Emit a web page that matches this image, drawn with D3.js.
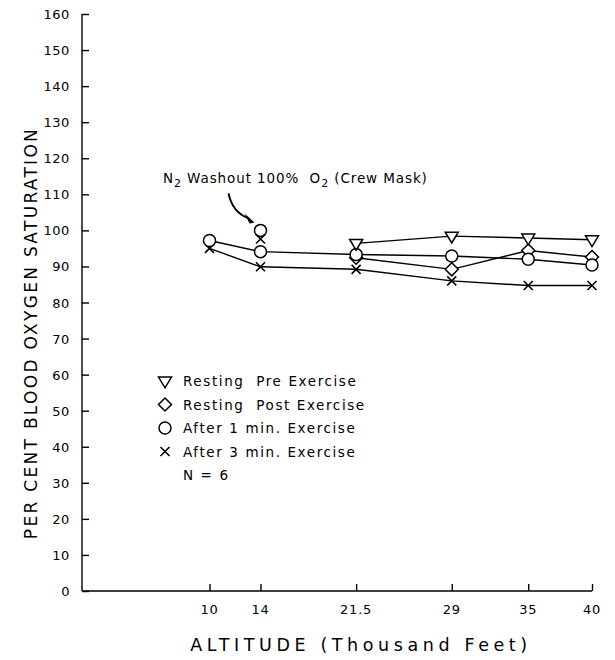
<!DOCTYPE html>
<html>
<head>
<meta charset="utf-8">
<script src="https://cdn.jsdelivr.net/npm/d3@7"></script>
<style>
  body { margin: 0; background: #fff; }
  svg text { font-family: "DejaVu Sans", sans-serif; fill: #000; white-space: pre; }
</style>
</head>
<body>
<div id="chart"></div>
<script>
// altitude ticks (thousand feet)
var altitudes = [10, 14, 21.5, 29, 35, 40];
var yTicks = d3.range(0, 161, 10);

// series
var preExercise   = [[21.5, 96.4], [29, 98.4], [35, 97.9], [40, 97.4]];
var postExercise  = [[21.5, 92.4], [29, 89.2], [35, 94.4], [40, 92.6]];
var after1min     = [[10, 97.2], [14, 94.1], [21.5, 93.3], [29, 92.9], [35, 92.0], [40, 90.4]];
var after3min     = [[10, 95.0], [14, 89.9], [21.5, 89.2], [29, 86.0], [35, 84.7], [40, 84.7]];

// N2 washout, 100% O2 (crew mask) points at 14,000 ft
var washoutCircle = [[14, 100.0]];
var washoutCross  = [[14, 97.6]];

var legendItems = [
  {sym: "tri", label: "Resting  Pre Exercise"},
  {sym: "dia", label: "Resting  Post Exercise"},
  {sym: "circ", label: "After 1 min. Exercise"},
  {sym: "x", label: "After 3 min. Exercise"}
];

var W = 615, H = 660;
var svg = d3.select("#chart").append("svg").attr("width", W).attr("height", H);

var x = d3.scaleLinear().domain([0, 40]).range([82, 592]);
var y = d3.scaleLinear().domain([0, 160]).range([591, 14]);

// y axis with ticks to the right, x axis ticks upward
var yAxis = d3.axisRight(y).tickValues(yTicks).tickSize(7).tickFormat("");
svg.append("g").attr("transform", "translate(" + x(0) + ",0)").call(yAxis)
  .call(function(g){ g.select(".domain").attr("d", "M0," + y(0) + "V" + y(160)); });

var xAxis = d3.axisTop(x).tickValues(altitudes).tickSize(7).tickFormat("");
svg.append("g").attr("transform", "translate(0," + y(0) + ")").call(xAxis)
  .call(function(g){ g.select(".domain").attr("d", "M" + x(0) + ",0H" + x(40)); });

svg.selectAll(".tick line, .domain").attr("stroke", "#000").attr("stroke-width", 1.4);

// tick labels
svg.selectAll(".ylab").data(yTicks).enter().append("text")
  .attr("x", 70).attr("y", function(d){ return y(d) + 5; })
  .attr("text-anchor", "end").attr("font-size", 13).attr("letter-spacing", 0.6)
  .text(function(d){ return d; });

svg.selectAll(".xlab").data(altitudes).enter().append("text")
  .attr("x", function(d){ return x(d); }).attr("y", 614)
  .attr("text-anchor", "middle").attr("font-size", 13).attr("letter-spacing", 0.8)
  .text(function(d){ return d; });

svg.append("text").attr("x", 361).attr("y", 651).attr("text-anchor", "middle")
  .attr("font-size", 17.5).attr("letter-spacing", 4.6)
  .text("ALTITUDE (Thousand Feet)");

svg.append("text").attr("transform", "translate(37,333) rotate(-90)")
  .attr("text-anchor", "middle").attr("font-size", 17).attr("letter-spacing", 2.3)
  .text("PER CENT BLOOD OXYGEN SATURATION");

// lines
var line = d3.line().x(function(d){ return x(d[0]); }).y(function(d){ return y(d[1]); });
[preExercise, postExercise, after1min, after3min].forEach(function(s){
  svg.append("path").attr("d", line(s)).attr("fill", "none")
    .attr("stroke", "#000").attr("stroke-width", 1.4);
});

// marker drawing
function marker(g, sym, cx, cy){
  if(sym === "circ"){
    g.append("circle").attr("cx", cx).attr("cy", cy).attr("r", 6)
      .attr("fill", "#fff").attr("stroke", "#000").attr("stroke-width", 1.5);
  } else if(sym === "tri"){
    var s = 6.5;
    g.append("path").attr("d", "M" + (cx - s) + "," + (cy - s * 0.6) + "L" + (cx + s) + "," + (cy - s * 0.6) + "L" + cx + "," + (cy + s * 1.05) + "Z")
      .attr("fill", "#fff").attr("stroke", "#000").attr("stroke-width", 1.5);
  } else if(sym === "dia"){
    var d = 6.5;
    g.append("path").attr("d", "M" + cx + "," + (cy - d) + "L" + (cx + d) + "," + cy + "L" + cx + "," + (cy + d) + "L" + (cx - d) + "," + cy + "Z")
      .attr("fill", "#fff").attr("stroke", "#000").attr("stroke-width", 1.5);
  } else {
    var k = 4.5;
    g.append("path").attr("d", "M" + (cx - k) + "," + (cy - k) + "L" + (cx + k) + "," + (cy + k) + "M" + (cx + k) + "," + (cy - k) + "L" + (cx - k) + "," + (cy + k))
      .attr("fill", "none").attr("stroke", "#000").attr("stroke-width", 1.6);
  }
}

var mk = svg.append("g");
after3min.forEach(function(p){ marker(mk, "x", x(p[0]), y(p[1])); });
postExercise.forEach(function(p){ marker(mk, "dia", x(p[0]), y(p[1])); });
after1min.forEach(function(p){ marker(mk, "circ", x(p[0]), y(p[1])); });
preExercise.forEach(function(p){ marker(mk, "tri", x(p[0]), y(p[1])); });
washoutCross.forEach(function(p){ marker(mk, "x", x(p[0]), y(p[1])); });
washoutCircle.forEach(function(p){ marker(mk, "circ", x(p[0]), y(p[1])); });

// annotation
var ann = svg.append("text").attr("x", 163).attr("y", 183).attr("font-size", 13.5).attr("letter-spacing", 0.9);
ann.append("tspan").text("N");
ann.append("tspan").attr("dy", 4).attr("font-size", 11).text("2");
ann.append("tspan").attr("dy", -4).text(" Washout 100%  O");
ann.append("tspan").attr("dy", 4).attr("font-size", 11).text("2");
ann.append("tspan").attr("dy", -4).text(" (Crew Mask)");

var tx = x(14) - 6, ty = y(100) - 8;
svg.append("path")
  .attr("d", "M" + (tx - 26) + "," + (ty - 29) + "Q" + (tx - 22) + "," + (ty - 10) + " " + (tx - 6) + "," + (ty - 4))
  .attr("fill", "none").attr("stroke", "#000").attr("stroke-width", 2);
svg.append("path")
  .attr("d", "M" + tx + "," + ty + "L" + (tx - 10) + "," + (ty - 9) + "L" + (tx - 5) + "," + (ty + 1) + "Z")
  .attr("fill", "#000");

// legend
var lg = svg.append("g");
legendItems.forEach(function(it, i){
  var ly = 381 + i * 23.5;
  marker(lg, it.sym, 165, ly);
  lg.append("text").attr("x", 183).attr("y", ly + 5).attr("font-size", 13.5)
    .attr("letter-spacing", 1.6).text(it.label);
});
lg.append("text").attr("x", 183).attr("y", 480).attr("font-size", 13.5)
  .attr("letter-spacing", 1.6).text("N = 6");
</script>
</body>
</html>
